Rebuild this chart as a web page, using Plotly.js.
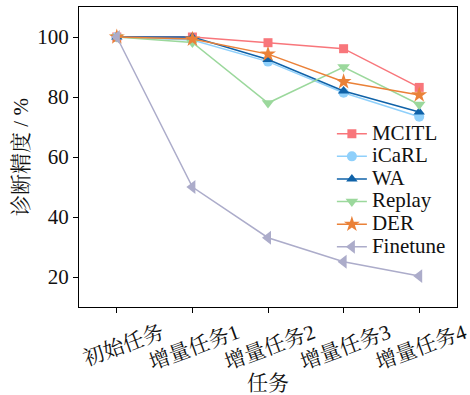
<!DOCTYPE html>
<html>
<head>
<meta charset="utf-8">
<script src="https://cdn.plot.ly/plotly-3.0.1.min.js"></script>
<style>html,body{margin:0;padding:0;background:#fff;}#chart{width:470px;height:395px;}</style>
</head>
<body>
<div id="chart"></div>
<script>
const categories = ["初始任务", "增量任务1", "增量任务2", "增量任务3", "增量任务4"];
const seriesNames = ["MCITL", "iCaRL", "WA", "Replay", "DER", "Finetune"];
const mcitl = [100, 100, 98.1, 96.1, 83.2];
const icarl = [100, 99, 91.8, 81.4, 73.4];
const wa = [100, 100, 92.5, 82, 75];
const replay = [100, 98.2, 78, 90, 77.5];
const der = [100, 99.3, 94.3, 85.1, 80.7];
const finetune = [100, 50, 33.1, 25.1, 20.3];
const yTicks = [20, 40, 60, 80, 100];

const values = [mcitl, icarl, wa, replay, der, finetune];
const colors = ["#f8767b", "#8fd0fb", "#0f62a8", "#9bd89c", "#ea8138", "#acacca"];
const symbols = ["square", "circle", "triangle-up", "triangle-down", "star", "triangle-left"];
const sizes = [9, 10, 10, 11, 12, 12];
const FONT = "Liberation Serif, Noto Serif CJK SC, serif";

const traces = seriesNames.map((n, i) => ({
  x: categories,
  y: values[i],
  type: "scatter",
  mode: "lines+markers",
  name: '<span style="font-size:21px">' + n + '</span>',
  line: {color: colors[i], width: 1.5},
  marker: {color: colors[i], symbol: symbols[i], size: sizes[i]}
}));

const layout = {
  width: 470, height: 395,
  margin: {l: 79, r: 13, t: 7, b: 88},
  paper_bgcolor: "#fff", plot_bgcolor: "#fff",
  font: {family: FONT, size: 21, color: "#111"},
  showlegend: true,
  legend: {
    x: 0.669, y: 0.632, xanchor: "left", yanchor: "top",
    bgcolor: "rgba(0,0,0,0)", borderwidth: 0,
    font: {family: FONT, size: 15.1, color: "#111"},
    tracegroupgap: 0
  },
  xaxis: {
    type: "category",
    range: [-0.5, 4.5],
    showline: true, linecolor: "#000", linewidth: 1, mirror: true,
    ticks: "outside", ticklen: 5, tickcolor: "#000",
    tickangle: -20,
    ticklabelshift: 45,
    tickfont: {family: FONT, size: 21},
    showgrid: false, zeroline: false,
    title: {text: "任务", font: {family: FONT, size: 21}, standoff: 0}
  },
  yaxis: {
    range: [10, 110],
    tickvals: yTicks,
    showline: true, linecolor: "#000", linewidth: 1, mirror: true,
    ticks: "outside", ticklen: 5, tickcolor: "#000",
    tickfont: {family: FONT, size: 21},
    showgrid: false, zeroline: false,
    title: {text: "诊断精度 / %", font: {family: FONT, size: 21}, standoff: 2}
  }
};

Plotly.newPlot("chart", traces, layout, {displayModeBar: false, staticPlot: true});
</script>
</body>
</html>
